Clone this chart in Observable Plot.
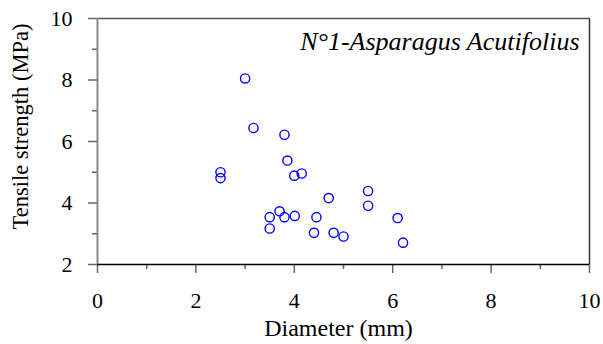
<!DOCTYPE html>
<html>
<head>
<meta charset="utf-8">
<script src="https://cdn.jsdelivr.net/npm/d3@7"></script>
<script src="https://cdn.jsdelivr.net/npm/@observablehq/plot@0.6"></script>
<style>
  html, body { margin: 0; padding: 0; background: #fff; }
  svg { display: block; }
  svg text { font-family: "Liberation Serif", serif; }
</style>
</head>
<body>
<div id="chart"></div>
<script>
const diameter = [3.0, 3.17, 3.8, 3.86, 2.5, 2.5, 4.0, 4.15, 4.7, 3.7, 3.5, 3.8, 4.01, 4.45, 3.5, 4.4, 4.8, 5.0, 5.5, 5.5, 6.1, 6.21];
const strength = [8.05, 6.44, 6.22, 5.38, 5.0, 4.81, 4.89, 4.96, 4.16, 3.73, 3.54, 3.54, 3.58, 3.54, 3.17, 3.03, 3.03, 2.91, 4.39, 3.91, 3.51, 2.71];
const xMajorTicks = [0, 2, 4, 6, 8, 10];
const xMinorTicks = [1, 3, 5, 7, 9];
const yMajorTicks = [2, 4, 6, 8, 10];
const yMinorTicks = [3, 5, 7, 9];
const label = "N°1-Asparagus Acutifolius";
const xTitle = "Diameter (mm)";
const yTitle = "Tensile strength (MPa)";

const data = diameter.map((d, i) => ({d, s: strength[i]}));
const FF = "'Liberation Serif', 'Times New Roman', serif";

const chart = Plot.plot({
  width: 603,
  height: 344,
  marginLeft: 97,
  marginRight: 14,
  marginTop: 18,
  marginBottom: 80,
  style: {fontFamily: FF, fontSize: "22px", color: "#000", background: "#fff"},
  x: {domain: [0, 10], axis: null},
  y: {domain: [2, 10], axis: null},
  marks: [
    Plot.ruleX([10], {stroke: "#333", strokeWidth: 1.5}),
    Plot.ruleY([10], {stroke: "#555", strokeWidth: 1.5}),
    Plot.axisX(xMinorTicks, {tickSize: 5, text: null, label: null, stroke: "#666", strokeWidth: 1.5}),
    Plot.axisY(yMinorTicks, {tickSize: 5, text: null, label: null, stroke: "#666", strokeWidth: 1.5}),
    Plot.axisX(xMajorTicks, {tickSize: 9, tickPadding: 19, stroke: "#666", strokeWidth: 1.5, fontSize: 22, fontFamily: FF, label: null, tickFormat: d => String(d)}),
    Plot.axisY(yMajorTicks, {tickSize: 9, tickPadding: 16, stroke: "#666", strokeWidth: 1.5, fontSize: 22, fontFamily: FF, label: null, tickFormat: d => String(d)}),
    Plot.ruleX([0], {stroke: "#888", strokeWidth: 2}),
    Plot.ruleY([2], {stroke: "#000", strokeWidth: 1.5}),
    Plot.dot(data, {x: "d", y: "s", r: 4.6, stroke: "#0000ff", strokeWidth: 1.4, fill: "none"}),
    Plot.text([label], {frameAnchor: "top-right", dx: -10, dy: 31, lineAnchor: "bottom", text: d => d, fontSize: 26, fontFamily: FF, fontStyle: "italic", textAnchor: "end", fill: "#000"}),
    Plot.text([xTitle], {frameAnchor: "bottom", dx: -5, dy: 71, text: d => d, fontSize: 24, fontFamily: FF, textAnchor: "middle", fill: "#000"}),
    Plot.text([yTitle], {frameAnchor: "left", dx: -77, dy: -15, rotate: -90, text: d => d, fontSize: 22.5, fontFamily: FF, textAnchor: "middle", fill: "#000"})
  ]
});
document.getElementById("chart").appendChild(chart);
</script>
</body>
</html>
